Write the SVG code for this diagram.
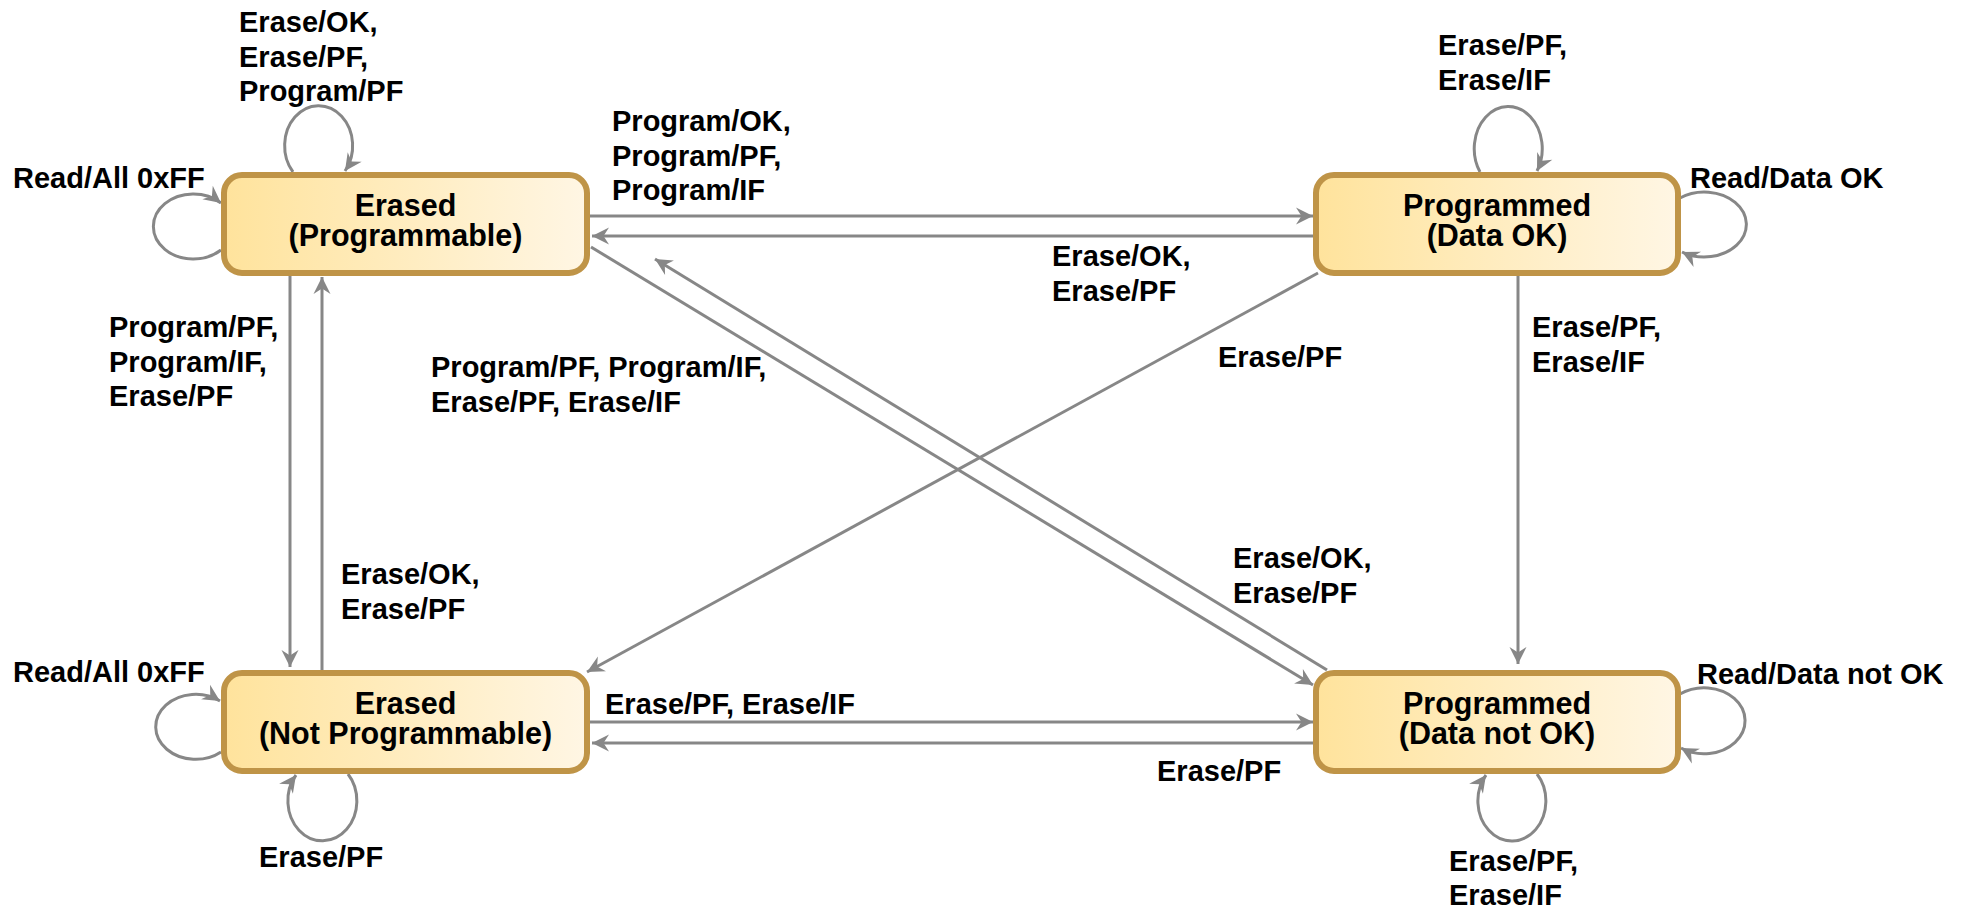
<svg xmlns="http://www.w3.org/2000/svg" width="1970" height="909" viewBox="0 0 1970 909">
  <style>
    .node rect { fill: url(#nodeFill); stroke: #BF9447; stroke-width: 6; }
    .node text { font-family: "Liberation Sans", Arial, sans-serif; font-weight: bold; font-size: 30.5px; fill: #000; text-anchor: middle; }
    .edge { fill: none; stroke: #878787; stroke-width: 3; marker-end: url(#arrow); }
    .lbl { font-family: "Liberation Sans", Arial, sans-serif; font-weight: bold; font-size: 29px; fill: #000; }
  </style>
  <defs>
    <linearGradient id="nodeFill" x1="0" y1="0" x2="1" y2="0">
      <stop offset="0" stop-color="#FFE39C"/>
      <stop offset="1" stop-color="#FFF6E4"/>
    </linearGradient>
    <marker id="arrow" viewBox="-18 -10 20 20" markerWidth="20" markerHeight="20" refX="0" refY="0" orient="auto" markerUnits="userSpaceOnUse">
      <path d="M0,0 L-17,-8.5 L-11.5,0 L-17,8.5 Z" fill="#878787"/>
    </marker>
  </defs>
  <rect width="1970" height="909" fill="#fff"/>

  <!-- connectors -->
  <g id="connectors">
    <!-- between the two top states -->
    <path class="edge" d="M590,216 L1313,216"/>
    <path class="edge" d="M1314,236 L592,236"/>
    <!-- between the two bottom states -->
    <path class="edge" d="M590,722 L1313,722"/>
    <path class="edge" d="M1314,743 L592,743"/>
    <!-- left verticals -->
    <path class="edge" d="M290,276 L290,667"/>
    <path class="edge" d="M322,670 L322,277"/>
    <!-- right vertical -->
    <path class="edge" d="M1518,276 L1518,664"/>
    <!-- diagonals -->
    <path class="edge" d="M591,247 L1313,685"/>
    <path class="edge" d="M1327,670 L655,259"/>
    <path class="edge" d="M1318,273 L587,672"/>
    <!-- self loops -->
    <path class="edge" d="M293,172 A34 40 0 1 1 345,171"/>
    <path class="edge" d="M221,250 A40 32.5 0 1 1 221,203"/>
    <path class="edge" d="M1480,172 A34 42 0 1 1 1537,171"/>
    <path class="edge" d="M1680,198 A42 32.5 0 1 1 1682,252"/>
    <path class="edge" d="M221,752 A40 32.5 0 1 1 220,701"/>
    <path class="edge" d="M348,774 A34.5 40 0 1 1 296,775"/>
    <path class="edge" d="M1680,694 A41 33 0 1 1 1681,748"/>
    <path class="edge" d="M1537,774 A34 40 0 1 1 1486,775"/>
  </g>

  <!-- states -->
  <g id="erased-programmable" class="node">
    <rect x="224" y="175" width="363" height="98" rx="18"/>
    <text x="405.5" y="216">Erased</text>
    <text x="405.5" y="246">(Programmable)</text>
  </g>
  <g id="programmed-ok" class="node">
    <rect x="1316" y="175" width="362" height="98" rx="18"/>
    <text x="1497" y="216">Programmed</text>
    <text x="1497" y="246">(Data OK)</text>
  </g>
  <g id="erased-not-programmable" class="node">
    <rect x="224" y="673" width="363" height="98" rx="18"/>
    <text x="405.5" y="714">Erased</text>
    <text x="405.5" y="744">(Not Programmable)</text>
  </g>
  <g id="programmed-not-ok" class="node">
    <rect x="1316" y="673" width="362" height="98" rx="18"/>
    <text x="1497" y="714">Programmed</text>
    <text x="1497" y="744">(Data not OK)</text>
  </g>

  <!-- transition labels -->
  <g id="labels" class="lbl">
    <text class="lbl" x="239" y="32"><tspan x="239">Erase/OK,</tspan><tspan x="239" dy="34.5">Erase/PF,</tspan><tspan x="239" dy="34.5">Program/PF</tspan></text>
    <text class="lbl" x="13" y="188">Read/All 0xFF</text>
    <text class="lbl" x="612" y="131"><tspan x="612">Program/OK,</tspan><tspan x="612" dy="34.5">Program/PF,</tspan><tspan x="612" dy="34.5">Program/IF</tspan></text>
    <text class="lbl" x="1052" y="266"><tspan x="1052">Erase/OK,</tspan><tspan x="1052" dy="34.5">Erase/PF</tspan></text>
    <text class="lbl" x="1438" y="55"><tspan x="1438">Erase/PF,</tspan><tspan x="1438" dy="34.5">Erase/IF</tspan></text>
    <text class="lbl" x="1690" y="188">Read/Data OK</text>
    <text class="lbl" x="109" y="337"><tspan x="109">Program/PF,</tspan><tspan x="109" dy="34.5">Program/IF,</tspan><tspan x="109" dy="34.5">Erase/PF</tspan></text>
    <text class="lbl" x="341" y="584"><tspan x="341">Erase/OK,</tspan><tspan x="341" dy="35">Erase/PF</tspan></text>
    <text class="lbl" x="431" y="377"><tspan x="431">Program/PF, Program/IF,</tspan><tspan x="431" dy="35">Erase/PF, Erase/IF</tspan></text>
    <text class="lbl" x="1218" y="367">Erase/PF</text>
    <text class="lbl" x="1532" y="337"><tspan x="1532">Erase/PF,</tspan><tspan x="1532" dy="35">Erase/IF</tspan></text>
    <text class="lbl" x="1233" y="568"><tspan x="1233">Erase/OK,</tspan><tspan x="1233" dy="35">Erase/PF</tspan></text>
    <text class="lbl" x="13" y="682">Read/All 0xFF</text>
    <text class="lbl" x="259" y="867">Erase/PF</text>
    <text class="lbl" x="605" y="714">Erase/PF, Erase/IF</text>
    <text class="lbl" x="1157" y="781">Erase/PF</text>
    <text class="lbl" x="1697" y="684">Read/Data not OK</text>
    <text class="lbl" x="1449" y="871"><tspan x="1449">Erase/PF,</tspan><tspan x="1449" dy="34">Erase/IF</tspan></text>
  </g>
</svg>
